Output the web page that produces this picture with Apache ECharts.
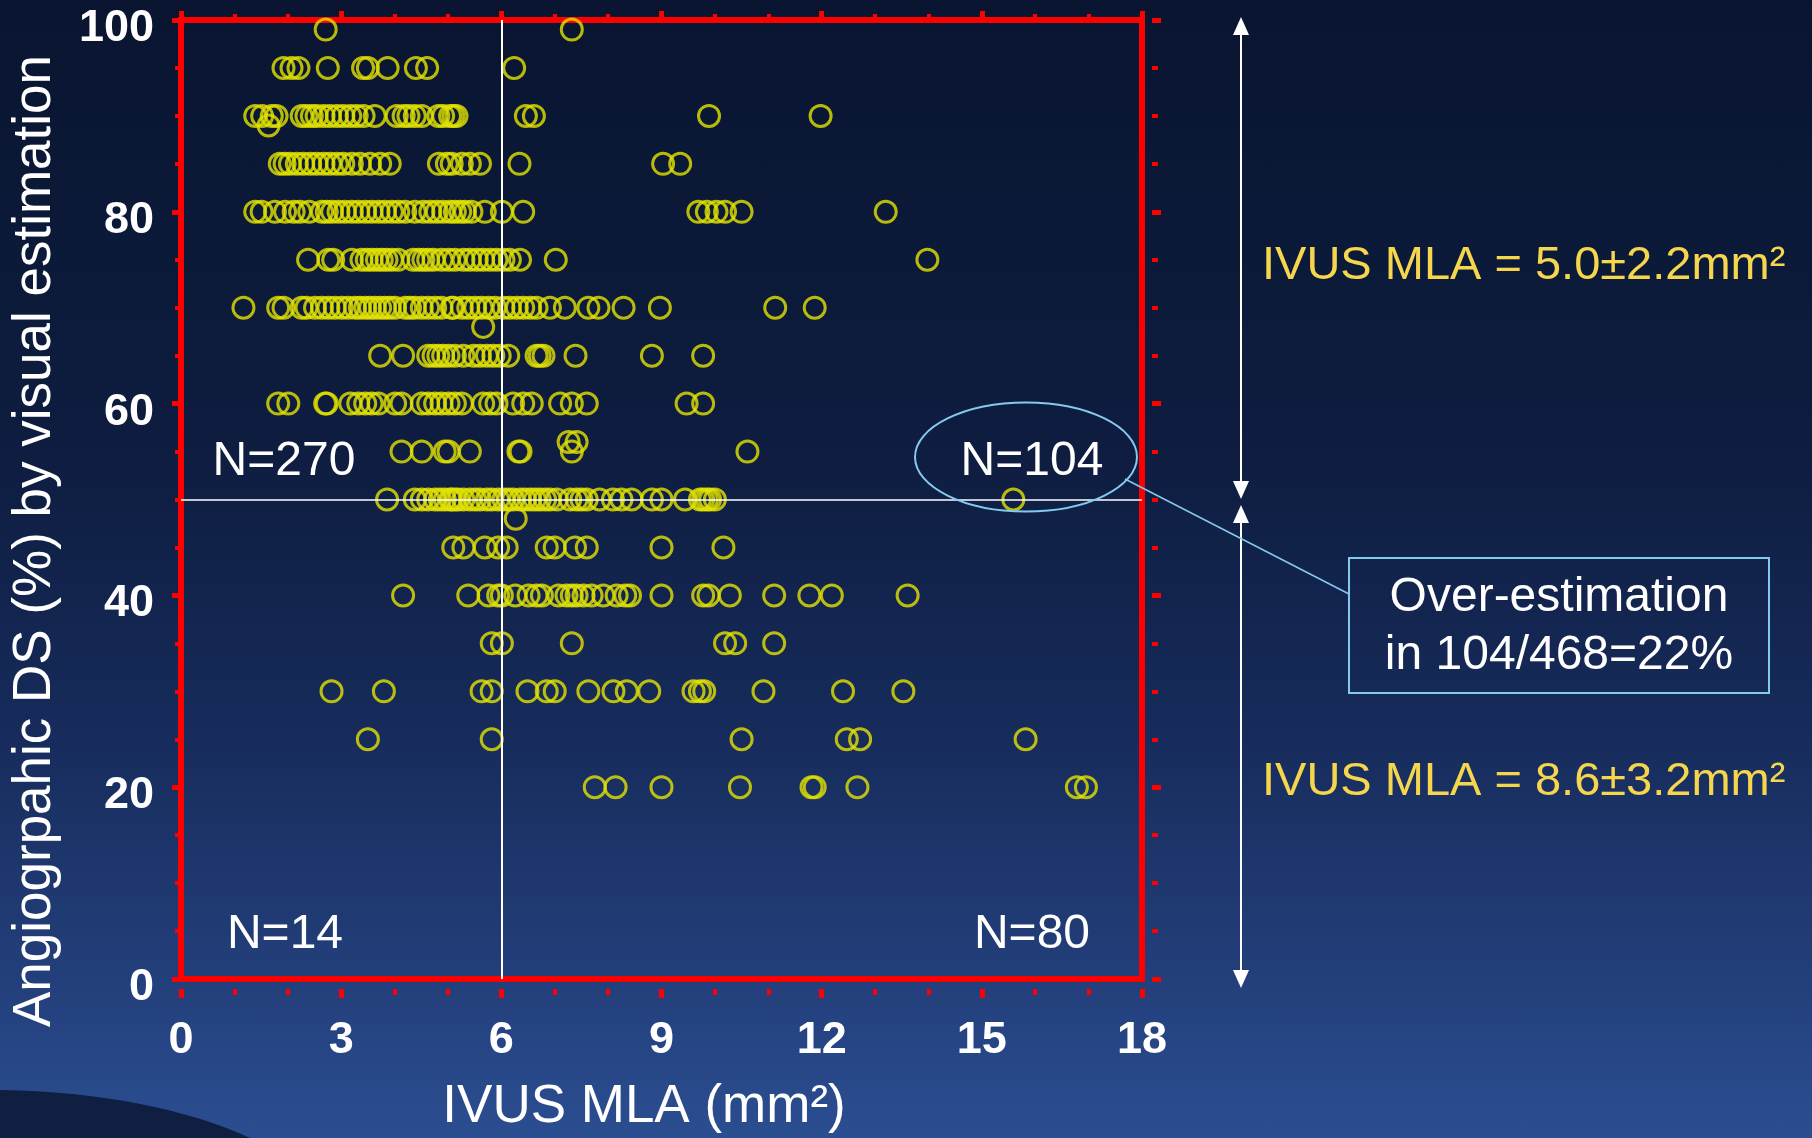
<!DOCTYPE html>
<html>
<head>
<meta charset="utf-8">
<title>IVUS MLA vs angiographic DS</title>
<script src="https://cdn.jsdelivr.net/npm/echarts@6/dist/echarts.min.js"></script>
<style>
  html, body { margin: 0; padding: 0; background: #0a1631; }
  #chart {
    width: 1812px; height: 1138px;
    background: linear-gradient(180deg, #091530 0%, #0e1d40 40%, #172c5c 65%, #24417e 88%, #2b4e91 100%);
  }
</style>
</head>
<body>
<div id="chart"></div>
<script>
// angiographic DS rows (%) and the IVUS MLA (mm2) of each circle on that row
const dsLevels = [99, 95, 90, 85, 80, 75, 70, 65, 60, 55, 50, 45, 40, 35, 30, 25, 20];
const mla99 = [2.71, 7.32];
const mla95 = [1.92, 2.07, 2.2, 2.75, 3.41, 3.5, 3.87, 4.4, 4.61, 6.24];
const mla90 = [1.39, 1.52, 1.7, 1.79, 2.26, 2.35, 2.45, 2.54, 2.67, 2.79, 2.92, 3.04, 3.17, 3.29, 3.42, 3.63,
  4.04, 4.17, 4.26, 4.38, 4.51, 4.82, 4.91, 5.04, 5.1, 5.16, 6.46, 6.61, 9.89, 11.98];
const mla85 = [1.85, 1.94, 2.04, 2.17, 2.29, 2.42, 2.54, 2.67, 2.79, 2.92, 3.04, 3.2, 3.35, 3.54, 3.73, 3.91,
  4.83, 4.98, 5.07, 5.26, 5.41, 5.6, 6.34, 9.03, 9.35];
const mla80 = [1.39, 1.51, 1.76, 1.95, 2.11, 2.23, 2.4, 2.64, 2.73, 2.83, 2.95, 3.07, 3.2, 3.32, 3.45, 3.57, 3.7,
  3.82, 3.95, 4.07, 4.2, 4.38, 4.54, 4.67, 4.79, 4.91, 5.04, 5.13, 5.23, 5.32, 5.44, 5.69, 6.01, 6.41,
  9.69, 9.85, 10.03, 10.19, 10.5, 13.2];
const mla75 = [2.38, 2.76, 2.85, 3.2, 3.38, 3.48, 3.57, 3.67, 3.76, 3.85, 3.95, 4.07, 4.35, 4.45, 4.54, 4.63,
  4.73, 4.88, 5.01, 5.13, 5.29, 5.41, 5.54, 5.66, 5.79, 5.91, 6.04, 6.16, 6.35, 7.02, 13.98];
const mla70 = [1.17, 1.82, 1.92, 2.26, 2.35, 2.51, 2.64, 2.76, 2.88, 3.01, 3.13, 3.26, 3.35, 3.45, 3.54, 3.63,
  3.73, 3.82, 3.91, 4.01, 4.2, 4.29, 4.38, 4.51, 4.63, 4.76, 4.88, 5.07, 5.1, 5.26, 5.38, 5.51, 5.63, 5.76,
  5.88, 6.04, 6.16, 6.29, 6.41, 6.54, 6.66, 6.91, 7.19, 7.63, 7.82, 8.29, 8.97, 11.13, 11.87];
const mla65 = [3.73, 4.16, 4.63, 4.73, 4.82, 4.91, 5.01, 5.13, 5.29, 5.48, 5.6, 5.73, 5.85, 5.97, 6.13, 6.66,
  6.72, 6.79, 7.39, 8.82, 9.78];
const mla60 = [1.82, 2.01, 2.7, 2.73, 3.17, 3.32, 3.45, 3.57, 3.7, 4.01, 4.13, 4.51, 4.63, 4.76, 4.88, 5.01,
  5.13, 5.26, 5.66, 5.79, 5.91, 6.22, 6.41, 6.57, 7.1, 7.32, 7.6, 9.47, 9.78];
const mla55 = [4.13, 4.51, 4.94, 5.01, 5.41, 6.32, 6.36, 10.61];
const mla50 = [3.86, 4.38, 4.51, 4.63, 4.76, 4.85, 4.94, 5.04, 5.07, 5.13, 5.19, 5.29, 5.41, 5.51, 5.6, 5.73,
  5.82, 5.94, 6.04, 6.13, 6.22, 6.35, 6.44, 6.54, 6.63, 6.72, 6.82, 6.91, 7.04, 7.29, 7.41, 7.5, 7.6, 7.84,
  8.09, 8.25, 8.44, 8.82, 9.0, 9.44, 9.72, 9.78, 9.85, 9.91, 10.0, 15.59];
const mla45 = [5.1, 5.29, 5.69, 5.94, 6.1, 6.85, 7.0, 7.38, 7.6, 9.0, 10.16];
const mla40 = [4.16, 5.38, 5.76, 5.94, 6.01, 6.26, 6.51, 6.66, 6.76, 7.07, 7.22, 7.32, 7.41, 7.54, 7.69, 7.91,
  8.16, 8.32, 8.41, 9.0, 9.78, 9.88, 10.28, 11.11, 11.77, 12.19, 13.61];
const mla35 = [5.82, 6.01, 7.32, 10.19, 10.38, 11.11];
const mla30 = [2.82, 3.8, 5.63, 5.82, 6.49, 6.85, 7.0, 7.63, 8.1, 8.35, 8.77, 9.6, 9.72, 9.8, 10.91, 12.4, 13.53];
const mla25 = [3.5, 5.82, 10.5, 12.47, 12.72, 15.82];
const mla20 = [7.75, 8.14, 9.0, 10.47, 11.81, 11.87, 12.67, 16.78, 16.95];
const mlaRows = [mla99, mla95, mla90, mla85, mla80, mla75, mla70, mla65, mla60, mla55, mla50,
  mla45, mla40, mla35, mla30, mla25, mla20];
// circles sitting off the 5% rows: [MLA, DS]
const offRowPoints = [[1.64, 89], [5.66, 68], [7.26, 56], [7.41, 56], [7.32, 55], [6.27, 48]];

const xTicks = { min: 0, max: 18, step: 3 };
const yTicks = { min: 0, max: 100, step: 20 };
const cutMla = 6;
const cutDs = 50;

let points = [];
dsLevels.forEach((ds, i) => {
  mlaRows[i].forEach(x => points.push([x, ds]));
});
points = points.concat(offRowPoints);

const red = '#ff0000';
const yellowText = '#f6d64c';
const paleBlue = '#86c9ef';
const font = "'Liberation Sans', Arial, sans-serif";

const chart = echarts.init(document.getElementById('chart'), null, { renderer: 'canvas' });

function label(text, x, y, size, color, extra) {
  return {
    type: 'text', x: x, y: y, z: 50,
    style: Object.assign({
      text: text, fill: color, font: size + 'px ' + font,
      textAlign: 'center', textVerticalAlign: 'middle',
      shadowColor: 'rgba(0,0,0,0.8)', shadowBlur: 3, shadowOffsetX: 2, shadowOffsetY: 2
    }, extra || {})
  };
}

function doubleArrow(x, y1, y2) {
  return [
    { type: 'line', z: 40, shape: { x1: x, y1: y1 + 12, x2: x, y2: y2 - 12 }, style: { stroke: '#ffffff', lineWidth: 2 } },
    { type: 'polygon', z: 40, shape: { points: [[x, y1], [x - 8, y1 + 18], [x + 8, y1 + 18]] }, style: { fill: '#ffffff' } },
    { type: 'polygon', z: 40, shape: { points: [[x, y2], [x - 8, y2 - 18], [x + 8, y2 - 18]] }, style: { fill: '#ffffff' } }
  ];
}

// every axis only shows red ticks; the red frame comes from the grid border
function tickAxis(extra, split) {
  return Object.assign({
    type: 'value',
    show: true,
    axisLine: { show: true, onZero: false, lineStyle: { color: 'rgba(255,0,0,0)', width: 1 } },
    axisTick: { show: true, inside: false, length: 9, lineStyle: { color: red, width: 5 } },
    minorTick: { show: true, splitNumber: split, length: 6, lineStyle: { color: red, width: 4 } },
    splitLine: { show: false },
    minorSplitLine: { show: false }
  }, extra);
}

const tickLabel = { color: '#ffffff', fontSize: 45, fontWeight: 'bold', fontFamily: font };

const option = {
  animation: false,
  grid: {
    left: 181, top: 20, width: 961, height: 959,
    show: true, borderColor: red, borderWidth: 6, backgroundColor: 'transparent'
  },
  xAxis: [
    tickAxis({
      position: 'bottom', offset: 10,
      min: xTicks.min, max: xTicks.max, interval: xTicks.step,
      axisLabel: Object.assign({ margin: 29 }, tickLabel)
    }, 3),
    tickAxis({
      position: 'top', offset: 0,
      min: xTicks.min, max: xTicks.max, interval: xTicks.step,
      axisLabel: { show: false }
    }, 3)
  ],
  yAxis: [
    tickAxis({
      position: 'left', offset: 0,
      min: yTicks.min, max: yTicks.max, interval: yTicks.step,
      axisLabel: Object.assign({ margin: 27, verticalAlign: 'top', lineHeight: 17 }, tickLabel)
    }, 4),
    tickAxis({
      position: 'right', offset: 10,
      min: yTicks.min, max: yTicks.max, interval: yTicks.step,
      axisLabel: { show: false }
    }, 4)
  ],
  series: [{
    type: 'scatter',
    data: points,
    symbol: 'circle',
    symbolSize: 21,
    itemStyle: { color: 'rgba(0,0,0,0)', borderColor: '#e4e400', borderWidth: 3 },
    silent: true,
    markLine: {
      silent: true,
      symbol: 'none',
      label: { show: false },
      lineStyle: { color: '#ffffff', type: 'solid', width: 2 },
      data: [{ xAxis: cutMla }, { yAxis: cutDs, lineStyle: { width: 1.5 } }]
    }
  }],
  graphic: [
    // dark swoosh at the bottom left of the slide
    { type: 'ellipse', z: 0, shape: { cx: -10, cy: 1235, rx: 350, ry: 145 }, style: { fill: '#101e42' } },
    // axis names
    Object.assign(label('Angiogrpahic DS (%) by visual estimation', 35, 541, 53, '#ffffff'), { rotation: Math.PI / 2 }),
    label('IVUS MLA (mm²)', 644, 1107, 53, '#ffffff'),
    // quadrant counts
    label('N=270', 284, 462, 48, '#ffffff'),
    label('N=104', 1032, 462, 48, '#ffffff'),
    label('N=14', 285, 935, 48, '#ffffff'),
    label('N=80', 1032, 935, 48, '#ffffff'),
    // over-estimation callout
    { type: 'ellipse', z: 45, shape: { cx: 1026, cy: 457, rx: 111, ry: 54.5 }, style: { fill: 'none', stroke: paleBlue, lineWidth: 2 } },
    { type: 'line', z: 45, shape: { x1: 1125, y1: 479, x2: 1349, y2: 594 }, style: { stroke: paleBlue, lineWidth: 1.5 } },
    { type: 'rect', z: 45, shape: { x: 1349, y: 558, width: 420, height: 135 }, style: { fill: 'none', stroke: paleBlue, lineWidth: 2 } },
    label('Over-estimation', 1559, 598, 48, '#ffffff'),
    label('in 104/468=22%', 1559, 656, 48, '#ffffff'),
    // MLA summaries on the right
    label('IVUS MLA = 5.0±2.2mm²', 1262, 266, 47, yellowText, { textAlign: 'left' }),
    label('IVUS MLA = 8.6±3.2mm²', 1262, 782, 47, yellowText, { textAlign: 'left' })
  ].concat(doubleArrow(1241, 17, 499), doubleArrow(1241, 505, 988))
};

chart.setOption(option);
</script>
</body>
</html>
